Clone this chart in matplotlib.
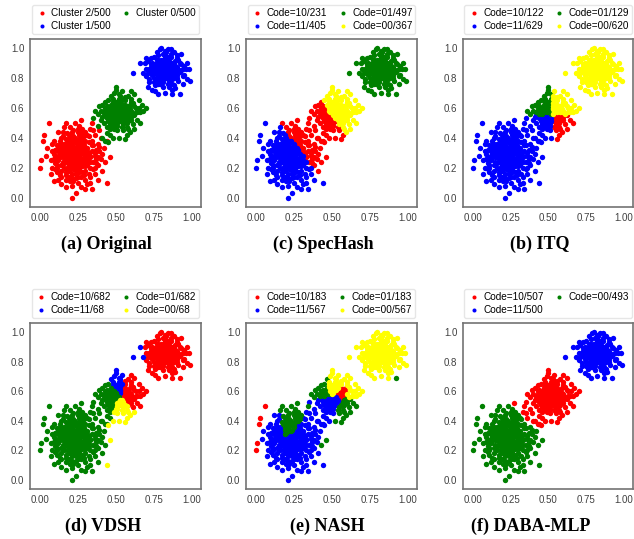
import numpy as np
import matplotlib
matplotlib.use("Agg")
import matplotlib.pyplot as plt
from matplotlib.path import Path

plt.rcParams["font.family"] = ["Liberation Sans", "DejaVu Sans"]

# the 3 gaussian blobs (same points in every panel), in percent of the unit square
low_x = [22, 19, 25, 17, 27, 21, 24, 15, 29, 20,
         13, 31, 18, 26, 23, 11, 33, 16, 28, 21,
         14, 30, 35, 12, 25, 18, 32, 9, 37, 24,
         17, 33, 8, 39, 14, 28, 20, 23, 18, 26,
         24, 21, 16, 29, 19, 27, 22, 15, 31, 20,
         12, 34, 26, 17, 29, 10, 36, 22, 13, 30,
         19, 25, 38, 7, 40, 11, 35, 16, 31, 21,
         27, 14, 41, 36, 6, 3, 2, 1, 0, 21,
         44, 46, 44, 34, 27, 17, 9, 30, 4, 5,
         38, 42, 34, 23, 12, 40, 24, 17, 7, 39,
         23, 20, 25, 18, 27, 22, 15, 28, 13, 32,
         19, 24, 10, 33, 26, 17, 30, 37, 14, 21,
         35, 8, 43, 28, 16, 25, 11, 31, 19, 23,
         36, 29, 12, 20, 26, 38, 33, 9, 41, 15,
         22, 20, 24, 18, 26, 21, 23, 19, 28, 16,
         25, 30, 17, 27, 20, 13, 29, 24, 15, 32,
         22, 18, 26, 31, 12, 34, 16, 28, 21, 33,
         11, 25, 36, 14, 30, 19, 27, 37, 10, 23,
         21, 26, 17, 24, 19, 28, 22, 15, 29, 20,
         25, 18, 23, 27, 16, 31, 21, 26, 14, 30,
         19, 24, 12, 33, 17, 28, 35, 13, 22, 32,
         9, 26, 20, 23, 18, 25, 21, 27, 16, 24,
         30, 19, 14, 28, 22, 17, 34, 11, 26, 36,
         15, 31, 8, 20, 38, 13, 25, 33, 10, 39]
low_y = [28, 31, 25, 26, 30, 22, 34, 32, 24, 37,
         27, 33, 20, 19, 40, 22, 27, 36, 37, 16,
         18, 18, 35, 34, 44, 43, 41, 29, 23, 13,
         12, 14, 20, 31, 40, 46, 26, 31, 29, 23,
         29, 25, 23, 29, 34, 34, 19, 29, 22, 40,
         25, 31, 39, 17, 15, 32, 28, 45, 38, 44,
         14, 10, 36, 25, 26, 17, 19, 47, 9, 8,
         7, 9, 18, 42, 50, 42, 38, 25, 20, 0,
         10, 27, 38, 50, 52, 50, 11, 6, 28, 33,
         12, 33, 6, 50, 44, 40, 3, 7, 16, 45,
         26, 32, 36, 24, 25, 21, 34, 32, 30, 37,
         18, 16, 27, 24, 42, 39, 12, 32, 14, 44,
         45, 36, 24, 21, 31, 33, 20, 28, 27, 38,
         16, 41, 12, 11, 48, 22, 10, 38, 29, 44,
         30, 27, 28, 32, 26, 35, 24, 22, 31, 27,
         38, 27, 34, 22, 19, 29, 35, 21, 24, 30,
         41, 38, 17, 25, 31, 35, 20, 40, 13, 20,
         26, 46, 30, 36, 38, 42, 14, 26, 23, 33,
         29, 31, 30, 25, 36, 26, 23, 27, 33, 24,
         35, 26, 37, 29, 33, 31, 20, 36, 22, 21,
         39, 18, 28, 28, 15, 43, 24, 35, 11, 16,
         26, 27, 34, 29, 28, 22, 38, 33, 30, 32,
         30, 20, 33, 17, 33, 24, 38, 35, 45, 20,
         41, 42, 31, 47, 27, 15, 14, 46, 19, 34]

mid_x = [52, 50, 54, 48, 56, 51, 53, 46, 58, 49,
         55, 47, 57, 44, 60, 52, 50, 45, 59, 54,
         43, 62, 48, 56, 41, 63, 51, 46, 58, 53,
         40, 64, 45, 60, 42, 66, 49, 57, 38, 67,
         44, 52, 61, 47, 55, 50, 53, 49, 56, 51,
         48, 54, 46, 57, 50, 55, 45, 59, 52, 47,
         53, 58, 44, 61, 49, 55, 42, 63, 47, 58,
         40, 65, 43, 60, 50, 54, 39, 68, 46, 59,
         70, 43, 45, 50, 36, 60, 62, 41, 48, 56,
         38, 66, 35, 53, 51, 48, 57, 44, 62, 65,
         52, 50, 54, 49, 53, 51, 55, 48, 56, 50,
         53, 47, 57, 51, 55, 46, 58, 49, 54, 52,
         45, 59, 48, 56, 43, 61, 51, 54, 47, 60,
         52, 50, 55, 48, 53, 57, 46, 58, 51, 44,
         55, 49, 53, 50, 56, 47, 54, 51, 59, 45,
         62, 42, 57, 48, 60, 52, 64, 41, 56, 46]
mid_y = [56, 58, 54, 55, 57, 61, 51, 58, 54, 52,
         60, 62, 50, 56, 58, 64, 48, 51, 62, 47,
         60, 55, 66, 65, 54, 60, 45, 46, 46, 68,
         58, 52, 65, 66, 50, 57, 70, 42, 56, 62,
         43, 40, 49, 49, 52, 53, 59, 60, 62, 50,
         58, 58, 54, 55, 64, 49, 60, 57, 53, 57,
         63, 60, 53, 63, 46, 45, 57, 57, 68, 68,
         52, 60, 64, 52, 72, 71, 61, 58, 42, 44,
         60, 38, 37, 74, 58, 71, 69, 40, 40, 39,
         48, 50, 53, 66, 55, 63, 59, 47, 46, 65,
         58, 55, 57, 57, 54, 59, 55, 53, 59, 61,
         61, 59, 53, 52, 62, 56, 57, 50, 52, 66,
         53, 59, 64, 51, 58, 56, 48, 65, 51, 54,
         51, 59, 58, 60, 56, 61, 60, 51, 63, 61,
         53, 55, 60, 51, 55, 54, 62, 57, 55, 57,
         61, 55, 47, 47, 64, 69, 57, 62, 67, 49]

high_x = [82, 80, 84, 78, 86, 81, 83, 76, 88, 79,
          85, 77, 87, 74, 90, 82, 80, 75, 89, 84,
          73, 92, 78, 86, 71, 93, 81, 76, 88, 83,
          70, 94, 75, 90, 72, 96, 79, 87, 68, 97,
          74, 82, 91, 77, 85, 80, 83, 79, 86, 81,
          78, 84, 76, 87, 80, 85, 75, 89, 82, 77,
          83, 88, 74, 91, 79, 85, 72, 93, 77, 88,
          70, 95, 73, 90, 80, 84, 69, 98, 76, 89,
          99, 92, 70, 87, 97, 72, 78, 66, 61, 93,
          95, 86, 81, 71, 94, 83, 78, 87, 81, 75,
          82, 80, 84, 79, 83, 81, 85, 78, 86, 80,
          83, 77, 87, 81, 85, 76, 88, 79, 84, 82,
          75, 89, 78, 86, 73, 91, 81, 84, 77, 90,
          82, 80, 85, 78, 83, 87, 76, 88, 81, 74,
          85, 79, 83, 80, 86, 77, 84, 81, 89, 75,
          92, 72, 87, 78, 90, 82, 94, 71, 86, 76]
high_y = [85, 87, 83, 84, 86, 90, 80, 88, 83, 81,
          89, 92, 79, 85, 87, 94, 77, 80, 91, 76,
          89, 84, 95, 94, 83, 89, 74, 75, 75, 97,
          86, 81, 94, 95, 79, 86, 99, 72, 83, 90,
          72, 70, 78, 78, 81, 82, 88, 89, 90, 79,
          87, 86, 83, 84, 92, 78, 89, 86, 82, 85,
          92, 89, 82, 92, 76, 74, 86, 85, 97, 97,
          81, 88, 93, 80, 100, 99, 90, 86, 71, 73,
          78, 69, 93, 69, 79, 77, 69, 90, 83, 96,
          82, 99, 96, 74, 76, 85, 80, 87, 83, 77,
          87, 84, 86, 86, 83, 88, 84, 82, 88, 90,
          90, 88, 82, 81, 91, 86, 86, 79, 80, 95,
          83, 88, 92, 79, 87, 85, 77, 94, 80, 82,
          80, 88, 87, 90, 86, 90, 89, 80, 92, 90,
          82, 84, 89, 80, 84, 83, 91, 86, 84, 86,
          90, 84, 76, 76, 93, 98, 86, 91, 96, 78]

titles = ["(a) Original", "(c) SpecHash", "(b) ITQ",
          "(d) VDSH", "(e) NASH", "(f) DABA-MLP"]

legend_labels = [
    ["Cluster 2/500", "Cluster 1/500", "Cluster 0/500"],
    ["Code=10/231", "Code=11/405", "Code=01/497", "Code=00/367"],
    ["Code=10/122", "Code=11/629", "Code=01/129", "Code=00/620"],
    ["Code=10/682", "Code=11/68", "Code=01/682", "Code=00/68"],
    ["Code=10/183", "Code=11/567", "Code=01/183", "Code=00/567"],
    ["Code=10/507", "Code=11/500", "Code=00/493"],
]
legend_colors = [
    ["red", "blue", "green"],
    ["red", "blue", "green", "yellow"],
    ["red", "blue", "green", "yellow"],
    ["red", "blue", "green", "yellow"],
    ["red", "blue", "green", "yellow"],
    ["red", "blue", "green"],
]

# colour of (low, mid, high) blob in each panel
base_colors = [
    ("red", "green", "blue"),
    ("blue", "red", "green"),
    ("blue", "blue", "yellow"),
    ("green", "green", "red"),
    ("blue", "yellow", "yellow"),
    ("green", "red", "blue"),
]


def wedge(cx, cy, a0, a1, r=0.6):
    a = np.radians(np.linspace(a0, a1, 24))
    return [(cx, cy)] + list(zip(cx + r * np.cos(a), cy + r * np.sin(a)))


def box(x, y, h=0.015):
    return [(x - h, y - h), (x + h, y - h), (x + h, y + h), (x - h, y + h)]


# code regions: (blob, colour, polygon), applied in order
regions = [
    [],
    [(0, "red", [(-0.15, 0.88), (0.70, -0.22), (1.2, 0.5), (0.5, 1.2)]),
     (1, "yellow", [(0.16, 0.99), (0.86, 0.09), (1.3, 0.6), (0.7, 1.3)])],
    [(1, "red", [(0.525, -0.2), (1.2, -0.2), (1.2, 0.555), (0.525, 0.555)]),
     (1, "green", [(-0.2, 0.555), (0.525, 0.555), (0.525, 1.2), (-0.2, 1.2)]),
     (1, "yellow", [(0.525, 0.555), (1.2, 0.555), (1.2, 1.2), (0.525, 1.2)])],
    [(0, "yellow", box(0.46, 0.27)),
     (0, "yellow", box(0.44, 0.10)),
     (1, "blue", wedge(0.526, 0.56, 78, 126)),
     (1, "red", wedge(0.526, 0.56, -45, 78)),
     (1, "yellow", wedge(0.526, 0.56, 245, 315)),
     (2, "blue", [(0.59, 0.81), (0.68, 0.81), (0.68, 0.92), (0.59, 0.92)])],
    [(0, "green", [(0.155, 0.53), (0.36, 0.53), (0.32, 0.46), (0.29, 0.40),
                   (0.20, 0.29), (0.155, 0.37)]),
     (0, "green", box(0.46, 0.27)),
     (0, "green", box(0.43, 0.24)),
     (0, "red", [(-0.1, 0.35), (0.065, 0.35), (0.065, 0.6), (-0.1, 0.6)]),
     (0, "red", [(-0.1, 0.15), (0.015, 0.15), (0.015, 0.27), (-0.1, 0.27)]),
     (1, "green", [(0.52, 0.44), (0.577, 0.56), (0.685, 0.548), (0.85, 0.50),
                   (0.85, 0.30), (0.50, 0.30)]),
     (1, "green", [(0.30, 0.55), (0.50, 0.575), (0.46, 0.65), (0.52, 0.80),
                   (0.30, 0.80)]),
     (1, "blue", [(0.30, 0.55), (0.50, 0.575), (0.577, 0.56), (0.52, 0.44),
                  (0.50, 0.30), (0.30, 0.30)]),
     (1, "red", [(0.50, 0.58), (0.587, 0.655), (0.60, 0.575), (0.566, 0.54)]),
     (2, "green", box(0.92, 0.69))],
    [(0, "red", [(0.96, -0.2), (-0.2, 0.96), (0.6, 1.2), (1.2, 0.6)])],
]

blobs = [np.column_stack([low_x, low_y]) / 100.0,
         np.column_stack([mid_x, mid_y]) / 100.0,
         np.column_stack([high_x, high_y]) / 100.0]
pts = np.vstack(blobs)
blob_id = np.concatenate([np.full(len(b), i) for i, b in enumerate(blobs)])

W, H = 634, 539
fig = plt.figure(figsize=(W / 100, H / 100), dpi=100)

# axes boxes in pixels: left, top, width, height
lefts = [30, 246, 463]
tops = [39, 323]
heights = [168, 166]
cap_x = [[106, 323, 540], [103, 327, 531]]
cap_y = [244, 526]

for k in range(6):
    row, col = divmod(k, 3)
    l, t, h = lefts[col], tops[row], heights[row]
    w = 171 if col < 2 else 170
    ax = fig.add_axes([l / W, 1 - (t + h) / H, w / W, h / H])

    colors = np.array([base_colors[k][b] for b in blob_id], dtype=object)
    for b, c, poly in regions[k]:
        inside = Path(poly).contains_points(pts) & (blob_id == b)
        colors[inside] = c

    for lab, c in zip(legend_labels[k], legend_colors[k]):
        sel = colors == c
        ax.scatter(pts[sel, 0], pts[sel, 1], s=15, c=c, linewidths=0, label=lab)

    ax.set_xlim(-0.065, 1.06)
    ax.set_ylim(-0.06, 1.06)
    ax.set_xticks([0, 0.25, 0.5, 0.75, 1.0])
    ax.set_yticks([0, 0.2, 0.4, 0.6, 0.8, 1.0])
    ax.tick_params(length=0, labelsize=7, labelcolor="0.25", pad=4)
    for sp in ax.spines.values():
        sp.set_color("0.45")
        sp.set_linewidth(1.2)

    ax.legend(loc="lower center", bbox_to_anchor=(0.5, 1.0), ncol=2,
              fontsize=7.2, frameon=True, edgecolor="0.88", handletextpad=0.3,
              columnspacing=0.9, labelspacing=0.3, borderpad=0.3,
              handlelength=1.3, scatterpoints=1, markerscale=0.75)

    fig.text(cap_x[row][col] / W, 1 - cap_y[row] / H, titles[k],
             ha="center", va="center", fontsize=13, fontweight="bold",
             family="Liberation Serif")

fig.savefig("out.png", dpi=100)
